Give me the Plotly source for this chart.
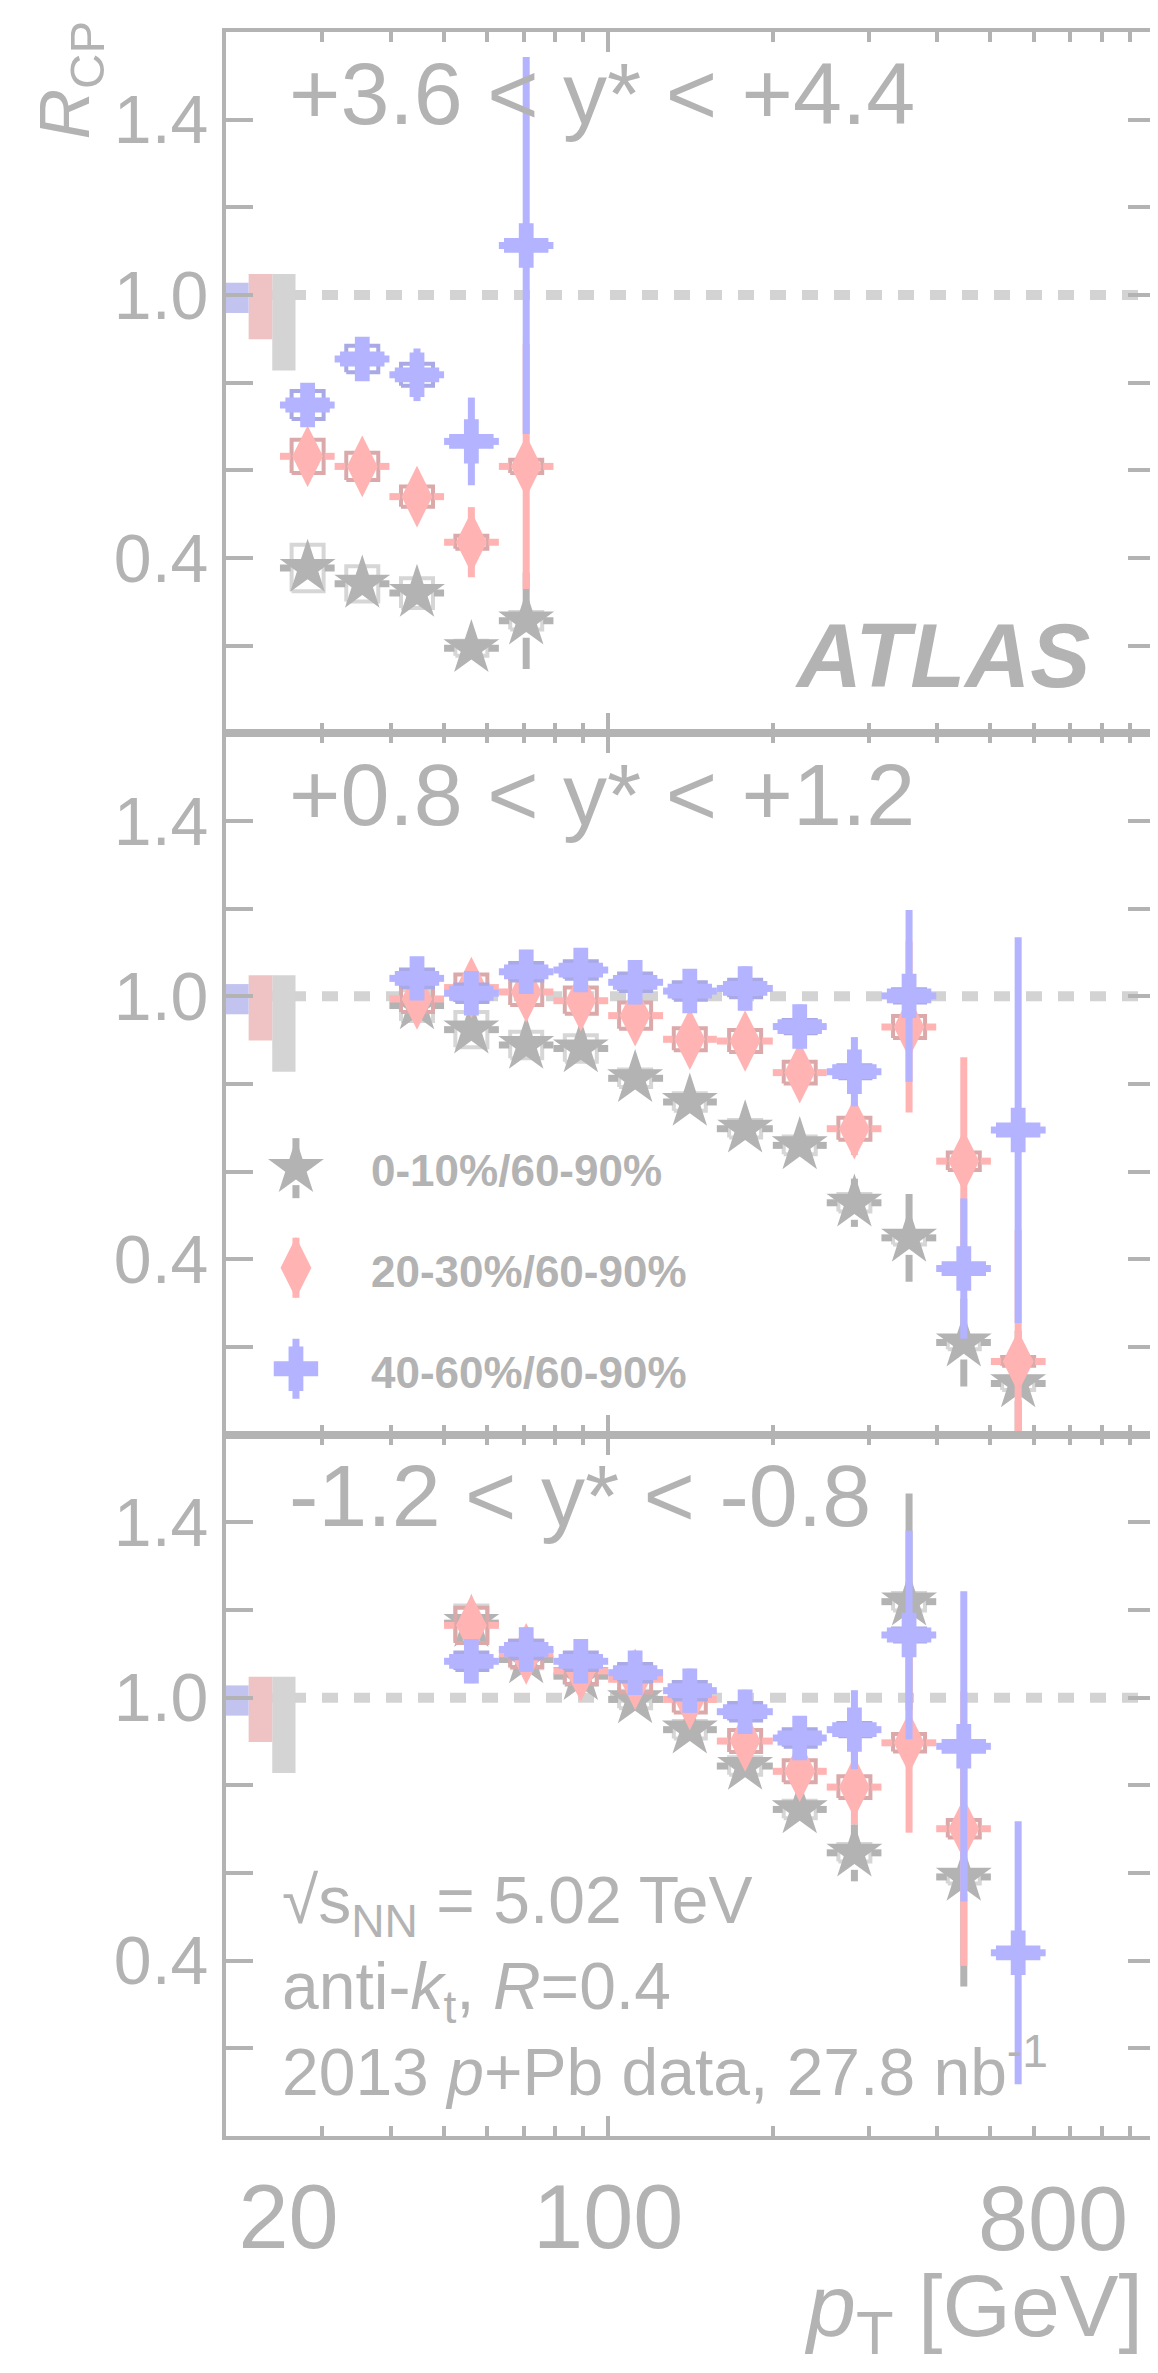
import numpy as np
import plotly.graph_objects as go
from plotly.subplots import make_subplots

# ---------------- data ----------------
series_names = ["0-10%/60-90%", "20-30%/60-90%", "40-60%/60-90%"]
rap_labels = ["+3.6 &lt; y* &lt; +4.4", "+0.8 &lt; y* &lt; +1.2", "-1.2 &lt; y* &lt; -0.8"]

# panel 1 : +3.6 < y* < +4.4
p1_pt = [28.2, 35.5, 44.7, 56.2, 70.8]
p1_lo = [25.1, 31.6, 39.8, 50.1, 63.1]
p1_hi = [31.6, 39.8, 50.1, 63.1, 79.4]
p1_c010 = [0.377, 0.341, 0.320, 0.194, 0.257]
p1_c010_stat = [0.02, 0.02, 0.02, 0.03, 0.11]
p1_c010_syst = [0.053, 0.040, 0.034, 0.017, 0.020]
p1_c2030 = [0.632, 0.609, 0.540, 0.436, 0.609]
p1_c2030_stat = [0.03, 0.03, 0.05, 0.08, 0.28]
p1_c2030_syst = [0.038, 0.031, 0.023, 0.015, 0.015]
p1_c4060 = [0.749, 0.854, 0.818, 0.666, 1.113]
p1_c4060_stat = [0.03, 0.03, 0.06, 0.10, 0.43]
p1_c4060_syst = [0.032, 0.030, 0.025, 0.010, 0.010]

# panel 2 : +0.8 < y* < +1.2
p2_pt = [44.7, 56.2, 70.8, 89.1, 112, 141, 178, 224, 282, 355, 447, 562]
p2_lo = [39.8, 50.1, 63.1, 79.4, 100, 126, 158, 200, 251, 316, 398, 501]
p2_hi = [50.1, 63.1, 79.4, 100, 126, 158, 200, 251, 316, 398, 501, 631]
p2_c010 = [0.979, 0.924, 0.889, 0.881, 0.813, 0.759, 0.698, 0.660, 0.529, 0.449, 0.210, 0.117]
p2_c010_stat = [0.02, 0.02, 0.02, 0.02, 0.02, 0.02, 0.025, 0.03, 0.055, 0.10, 0.10, 0.12]
p2_c010_syst = [0.035, 0.04, 0.03, 0.03, 0.02, 0.02, 0.02, 0.02, 0.02, 0.015, 0.015, 0.015]
p2_c2030 = [0.994, 1.020, 1.010, 0.990, 0.956, 0.902, 0.898, 0.826, 0.698, 0.930, 0.624, 0.167]
p2_c2030_stat = [0.03, 0.05, 0.04, 0.04, 0.04, 0.04, 0.04, 0.047, 0.06, 0.195, 0.237, 0.30]
p2_c2030_syst = [0.03, 0.03, 0.03, 0.03, 0.03, 0.025, 0.025, 0.025, 0.025, 0.025, 0.02, 0.01]
p2_c4060 = [1.041, 1.007, 1.056, 1.060, 1.032, 1.012, 1.018, 0.931, 0.828, 1.001, 0.379, 0.695]
p2_c4060_stat = [0.047, 0.047, 0.05, 0.05, 0.05, 0.05, 0.05, 0.05, 0.079, 0.196, 0.16, 0.44]
p2_c4060_syst = [0.02, 0.02, 0.02, 0.02, 0.02, 0.02, 0.02, 0.015, 0.015, 0.015, 0.01, 0.01]

# panel 3 : -1.2 < y* < -0.8
p3_pt = [56.2, 70.8, 89.1, 112, 141, 178, 224, 282, 355, 447, 562]
p3_lo = [50.1, 63.1, 79.4, 100, 126, 158, 200, 251, 316, 398, 501]
p3_hi = [63.1, 79.4, 100, 126, 158, 200, 251, 316, 398, 501, 631]
p3_c010 = [1.170, 1.087, 1.049, 0.996, 0.927, 0.844, 0.745, 0.646, 1.219, 0.591]
p3_c010_stat = [0.03, 0.02, 0.02, 0.02, 0.02, 0.025, 0.03, 0.065, 0.247, 0.25]
p3_c010_syst = [0.04, 0.02, 0.02, 0.02, 0.02, 0.02, 0.02, 0.02, 0.02, 0.015]
p3_c2030 = [1.165, 1.100, 1.061, 1.042, 0.996, 0.901, 0.832, 0.796, 0.897, 0.701]
p3_c2030_stat = [0.04, 0.03, 0.03, 0.03, 0.03, 0.04, 0.045, 0.085, 0.205, 0.313]
p3_c2030_syst = [0.04, 0.03, 0.03, 0.03, 0.03, 0.025, 0.025, 0.025, 0.02, 0.02]
p3_c4060 = [1.083, 1.110, 1.083, 1.057, 1.016, 0.968, 0.908, 0.927, 1.143, 0.889, 0.418]
p3_c4060_stat = [0.05, 0.05, 0.05, 0.05, 0.05, 0.05, 0.05, 0.09, 0.238, 0.354, 0.30]
p3_c4060_syst = [0.02, 0.02, 0.02, 0.02, 0.02, 0.02, 0.02, 0.015, 0.015, 0.01, 0.01]

# global (T_AB) uncertainty boxes at R_CP = 1, per series
glob_up = [0.048, 0.048, 0.028]
glob_down = [0.172, 0.101, 0.041]
glob_x_lo = [24.3, 22.0, 20.0]
glob_x_hi = [26.8, 24.3, 22.0]

x_tick_vals = [20, 100]
x_tick_text = ["\u00a0\u00a0\u00a0\u00a0\u00a020", "100"]
x_extra_label_val = 800
x_extra_label_text = "800"
x_minor_vals = [30, 40, 50, 60, 70, 80, 90, 200, 300, 400, 500, 600, 700, 800, 900]
y_tick_vals = [0.4, 1.0, 1.4]
y_tick_text = ["0.4", "1.0", "1.4"]
y_minor_vals = [0.2, 0.6, 0.8, 1.2]

# ---------------- style ----------------
FONT = "Liberation Sans, Arial, Helvetica, sans-serif"
TXT = "#b3b3b3"
AX = "#b3b3b3"
MK_COL = ["#b3b3b3", "#ffb3b3", "#b3b3ff"]
BOX_COL = ["#d6d6d6", "#dba9a9", "#a9a9e6"]
GLOB_COL = ["#d4d4d4", "#efc3c3", "#c3c3f0"]
SYMB = ["star", "diamond-tall", "cross"]
MSIZE = [42, 44, 37]
GAP_Y = 17 / 438.3          # marker gap of error bars (data units)
GAP_F = 10 ** (17 / 546.7)  # horizontal marker gap (log factor)
BOX_F = 10 ** (16 / 546.7)  # half width of syst boxes (log factor)
BAR_W = 7

panels = [
    (p1_pt, p1_lo, p1_hi,
     [(p1_c010, p1_c010_stat, p1_c010_syst), (p1_c2030, p1_c2030_stat, p1_c2030_syst),
      (p1_c4060, p1_c4060_stat, p1_c4060_syst)]),
    (p2_pt, p2_lo, p2_hi,
     [(p2_c010, p2_c010_stat, p2_c010_syst), (p2_c2030, p2_c2030_stat, p2_c2030_syst),
      (p2_c4060, p2_c4060_stat, p2_c4060_syst)]),
    (p3_pt, p3_lo, p3_hi,
     [(p3_c010, p3_c010_stat, p3_c010_syst), (p3_c2030, p3_c2030_stat, p3_c2030_syst),
      (p3_c4060, p3_c4060_stat, p3_c4060_syst)]),
]

fig = make_subplots(rows=3, cols=1, shared_xaxes=True, vertical_spacing=0)

for r, (pt, lo, hi, series) in enumerate(panels, start=1):
    sfx = "" if r == 1 else str(r)
    # dotted unity line
    fig.add_shape(type="line", xref=f"x{sfx} domain", x0=0, x1=1, yref=f"y{sfx}", y0=1, y1=1,
                  line=dict(color="#d3d3d3", width=10, dash="16px,16px"), layer="below")
    # global uncertainty boxes
    for k in range(3):
        xl, xh = glob_x_lo[k], glob_x_hi[k]
        fig.add_trace(go.Scatter(x=[xl, xh, xh, xl, xl],
                                 y=[1 - glob_down[k], 1 - glob_down[k], 1 + glob_up[k], 1 + glob_up[k], 1 - glob_down[k]],
                                 mode="lines", fill="toself", fillcolor=GLOB_COL[k],
                                 line=dict(width=0, color=GLOB_COL[k]), hoverinfo="skip"), row=r, col=1)
    for k, (yv, st, sy) in enumerate(series):
        n = len(yv)
        ppt, plo, phi = pt[:n], lo[:n], hi[:n]
        bx, by, hx, hy, vx, vy = [], [], [], [], [], []
        for p, l, h, v, e, s in zip(ppt, plo, phi, yv, st, sy):
            x0, x1 = p / BOX_F, p * BOX_F
            bx += [x0, x1, x1, x0, x0, None]
            by += [v - s, v - s, v + s, v + s, v - s, None]
            hx += [l, p / GAP_F, None, p * GAP_F, h, None]
            hy += [v, v, None, v, v, None]
            if e > GAP_Y:
                vx += [p, p, None, p, p, None]
                vy += [v - e, v - GAP_Y, None, v + GAP_Y, v + e, None]
        fig.add_trace(go.Scatter(x=bx, y=by, mode="lines", line=dict(color=BOX_COL[k], width=4),
                                 hoverinfo="skip"), row=r, col=1)
        fig.add_trace(go.Scatter(x=hx, y=hy, mode="lines", line=dict(color=MK_COL[k], width=BAR_W),
                                 hoverinfo="skip"), row=r, col=1)
        if vx:
            fig.add_trace(go.Scatter(x=vx, y=vy, mode="lines", line=dict(color=MK_COL[k], width=BAR_W),
                                     hoverinfo="skip"), row=r, col=1)
        fig.add_trace(go.Scatter(x=ppt, y=yv, mode="markers", name=series_names[k],
                                 marker=dict(symbol=SYMB[k], size=MSIZE[k], color=MK_COL[k],
                                             line=dict(width=0))), row=r, col=1)

    fig.update_xaxes(row=r, col=1, type="log",
                     range=[np.log10(19.999), np.log10(1000.01)],
                     showline=True, linecolor=AX, linewidth=4, mirror="ticks",
                     ticks="inside", ticklen=20, tickwidth=4, tickcolor=AX,
                     tickmode="array", tickvals=x_tick_vals, ticktext=x_tick_text,
                     minor=dict(tickmode="array", tickvals=x_minor_vals, ticks="inside",
                                ticklen=10, tickwidth=4, tickcolor=AX, showgrid=False),
                     showgrid=False, zeroline=False, showticklabels=(r == 3),
                     tickfont=dict(size=90, color=TXT, family=FONT))
    fig.update_yaxes(row=r, col=1, range=[0, 1.6], showline=True, linecolor=AX, linewidth=4,
                     mirror="ticks", ticks="inside", ticklen=27, tickwidth=4, tickcolor=AX,
                     tickmode="array", tickvals=y_tick_vals, ticktext=y_tick_text,
                     minor=dict(tickmode="array", tickvals=y_minor_vals, ticks="inside",
                                ticklen=27, tickwidth=4, tickcolor=AX, showgrid=False),
                     showgrid=False, zeroline=False,
                     tickfont=dict(size=68, color=TXT, family=FONT))
    # rapidity label
    fig.add_annotation(xref=f"x{sfx} domain", yref=f"y{sfx} domain", x=0.066, y=0.913,
                       xanchor="left", yanchor="middle", showarrow=False, text=rap_labels[r - 1],
                       font=dict(size=88, color=TXT, family=FONT))

# "800" x label (placed like the original, slightly left of its tick)
fig.add_annotation(xref="x3", yref="paper", x=np.log10(x_extra_label_val), y=-0.0395,
                   xanchor="center", yanchor="middle", xshift=-49, showarrow=False, borderpad=0,
                   text=x_extra_label_text, font=dict(size=90, color=TXT, family=FONT))

# legend keys on an overlay axis pair in panel 2
fig.update_layout(
    xaxis4=dict(overlaying="x2", range=[0, 1], visible=False, anchor="y4"),
    yaxis4=dict(overlaying="y2", range=[0, 1], visible=False, anchor="x4"),
)
key_x = 0.0753
key_y = [0.380, 0.238, 0.094]
text_y = [0.377, 0.232, 0.088]
for k in range(3):
    yc = key_y[k]
    fig.add_trace(go.Scatter(x=[key_x, key_x, None, key_x, key_x],
                             y=[yc - 0.0428, yc - 0.0242, None, yc + 0.0242, yc + 0.0428],
                             mode="lines", line=dict(color=MK_COL[k], width=BAR_W),
                             xaxis="x4", yaxis="y4", hoverinfo="skip"))
    fig.add_trace(go.Scatter(x=[key_x], y=[yc], mode="markers",
                             marker=dict(symbol=SYMB[k], size=MSIZE[k], color=MK_COL[k], line=dict(width=0)),
                             xaxis="x4", yaxis="y4", hoverinfo="skip"))
    fig.add_annotation(xref="x2 domain", yref="y2 domain", x=0.1536, y=text_y[k],
                       xanchor="left", yanchor="middle", showarrow=False,
                       text=f"<b>{series_names[k]}</b>", font=dict(size=44, color=TXT, family=FONT))

# ATLAS label
fig.add_annotation(xref="x domain", yref="y domain", x=0.932, y=0.110, xanchor="right",
                   yanchor="middle", showarrow=False, text="<b><i>ATLAS</i></b>",
                   font=dict(size=90, color=TXT, family=FONT))

# info text in panel 3
info_lines = ["√s<sub>NN</sub> = 5.02 TeV",
              "anti-<i>k</i><sub>t</sub>, <i>R</i>=0.4",
              "2013 <i>p</i>+Pb data, 27.8 nb<sup>-1</sup>"]
info_y = [0.392, 0.270, 0.036]
info_anchor = ["top", "top", "bottom"]
for t, yy, ya in zip(info_lines, info_y, info_anchor):
    fig.add_annotation(xref="x3 domain", yref="y3 domain", x=0.058, y=yy, xanchor="left",
                       yanchor=ya, showarrow=False, text=t,
                       font=dict(size=66, color=TXT, family=FONT))

# axis titles
fig.add_annotation(xref="paper", yref="paper", x=-0.168, y=0.9774, xanchor="center", yanchor="middle",
                   textangle=-90, showarrow=False, text="<i>R</i><sub>CP</sub>",
                   font=dict(size=70, color=TXT, family=FONT))
fig.add_annotation(xref="paper", yref="paper", x=0.988, y=-0.0835, xanchor="right", yanchor="middle",
                   showarrow=False, borderpad=0, text="<i>p</i><sub>T</sub> [GeV]",
                   font=dict(size=88, color=TXT, family=FONT))

fig.update_layout(width=1158, height=2373,
                  margin=dict(l=218, r=11, t=24, b=245, autoexpand=False),
                  paper_bgcolor="white", plot_bgcolor="white", showlegend=False,
                  font=dict(family=FONT, color=TXT))

fig.write_html("out.html")
